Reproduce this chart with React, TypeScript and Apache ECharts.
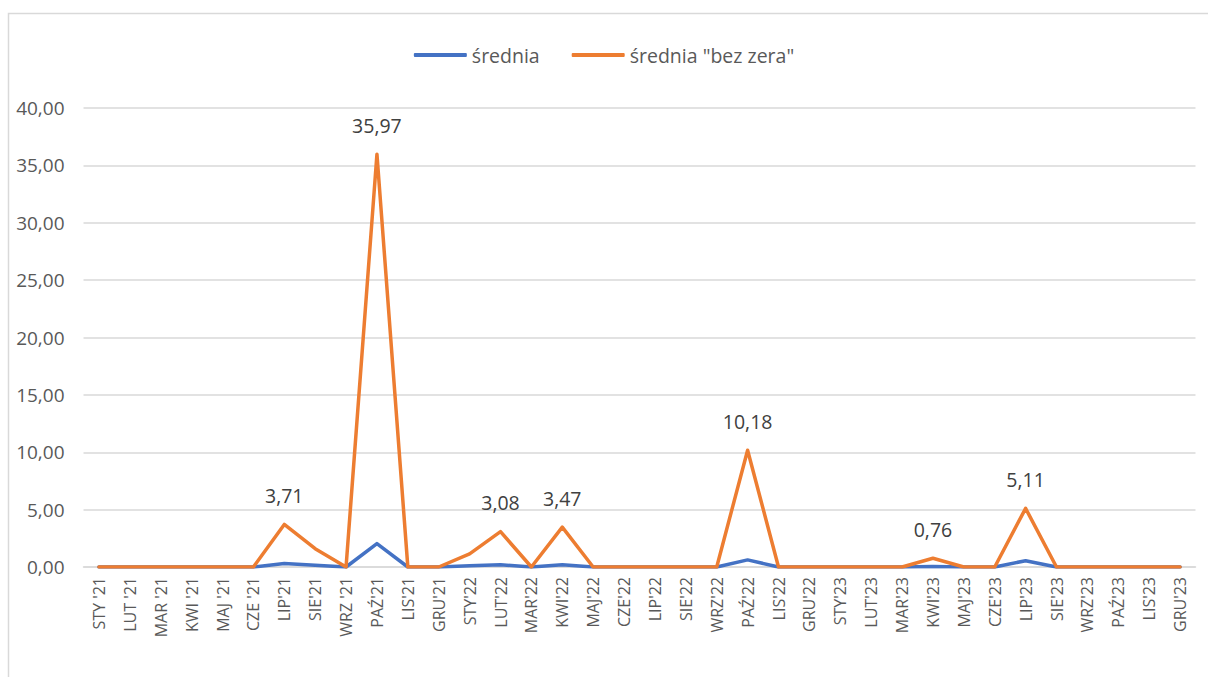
import React, { useEffect, useRef } from "react";
import * as echarts from "echarts";

const categories = [
  "STY '21", "LUT '21", "MAR '21", "KWI '21", "MAJ '21", "CZE '21", "LIP'21", "SIE'21", "WRZ '21", "PAŹ'21", "LIS'21", "GRU'21",
  "STY'22", "LUT'22", "MAR'22", "KWI'22", "MAJ'22", "CZE'22", "LIP'22", "SIE'22", "WRZ'22", "PAŹ'22", "LIS'22", "GRU'22",
  "STY'23", "LUT'23", "MAR'23", "KWI'23", "MAJ'23", "CZE'23", "LIP'23", "SIE'23", "WRZ'23", "PAŹ'23", "LIS'23", "GRU'23",
];

const srednia = [
  0, 0, 0, 0, 0, 0, 0.3, 0.15, 0, 2.04, 0, 0,
  0.1, 0.2, 0, 0.2, 0, 0, 0, 0, 0, 0.62, 0, 0,
  0, 0, 0, 0.05, 0, 0, 0.55, 0, 0, 0, 0, 0,
];

const sredniaBezZera = [
  0, 0, 0, 0, 0, 0, 3.71, 1.6, 0, 35.97, 0, 0,
  1.15, 3.08, 0, 3.47, 0, 0, 0, 0, 0, 10.18, 0, 0,
  0, 0, 0, 0.76, 0, 0, 5.11, 0, 0, 0, 0, 0,
];

const labeledIdx = [6, 9, 13, 15, 21, 27, 30];

const seriesNames = ["średnia", 'średnia "bez zera"'];
const yTicks = { min: 0, max: 40, interval: 5 };

const FONT = "Open Sans";
const fmt = (v: number) => v.toFixed(2).replace(".", ",");

export default function App() {
  const ref = useRef<HTMLDivElement>(null);
  useEffect(() => {
    if (!ref.current) return;
    const chart = echarts.init(ref.current, undefined, { renderer: "svg" });
    chart.setOption({
      animation: false,
      backgroundColor: "#ffffff",
      textStyle: { fontFamily: FONT },
      graphic: [
        {
          type: "rect",
          shape: { x: 8.5, y: 13.5, width: 1300, height: 700 },
          style: { fill: "none", stroke: "#d9d9d9", lineWidth: 1.5 },
          silent: true,
        },
      ],
      legend: {
        top: 40,
        left: "center",
        itemWidth: 53,
        itemHeight: 4,
        itemGap: 32,
        icon: "roundRect",
        textStyle: { fontFamily: FONT, fontSize: 19.5, color: "#595959" },
        data: seriesNames,
      },
      grid: { left: 83.5, right: 12.5, top: 108, bottom: 110, containLabel: false },
      xAxis: {
        type: "category",
        data: categories,
        boundaryGap: true,
        axisLine: { lineStyle: { color: "#d9d9d9", width: 1.5 } },
        axisTick: { show: false },
        axisLabel: {
          rotate: 90,
          interval: 0,
          margin: 10,
          fontFamily: FONT,
          fontSize: 16,
          color: "#595959",
        },
      },
      yAxis: {
        type: "value",
        min: yTicks.min,
        max: yTicks.max,
        interval: yTicks.interval,
        axisLine: { show: false },
        axisTick: { show: false },
        splitLine: { lineStyle: { color: "#d9d9d9", width: 1.5 } },
        axisLabel: {
          formatter: (v: number) => fmt(v),
          fontFamily: FONT,
          fontSize: 19,
          color: "#595959",
          margin: 19,
        },
      },
      series: [
        {
          name: seriesNames[0],
          type: "line",
          data: srednia,
          showSymbol: false,
          symbol: "none",
          color: "#4472C4",
          lineStyle: { width: 3.5, color: "#4472C4", cap: "round", join: "round" },
        },
        {
          name: seriesNames[1],
          type: "line",
          data: sredniaBezZera.map((v, i) =>
            labeledIdx.includes(i)
              ? {
                  value: v,
                  label: {
                    show: true,
                    position: "top",
                    distance: 19,
                    formatter: () => fmt(v),
                    fontFamily: FONT,
                    fontSize: 19.5,
                    color: "#404040",
                  },
                }
              : v
          ),
          showSymbol: true,
          symbol: "circle",
          symbolSize: 0,
          color: "#ED7D31",
          lineStyle: { width: 3.5, color: "#ED7D31", cap: "round", join: "round" },
        },
      ],
    });
    return () => chart.dispose();
  }, []);
  return (
    <div
      ref={ref}
      style={{ position: "absolute", left: 0, top: 0, width: 1208, height: 677 }}
    />
  );
}
